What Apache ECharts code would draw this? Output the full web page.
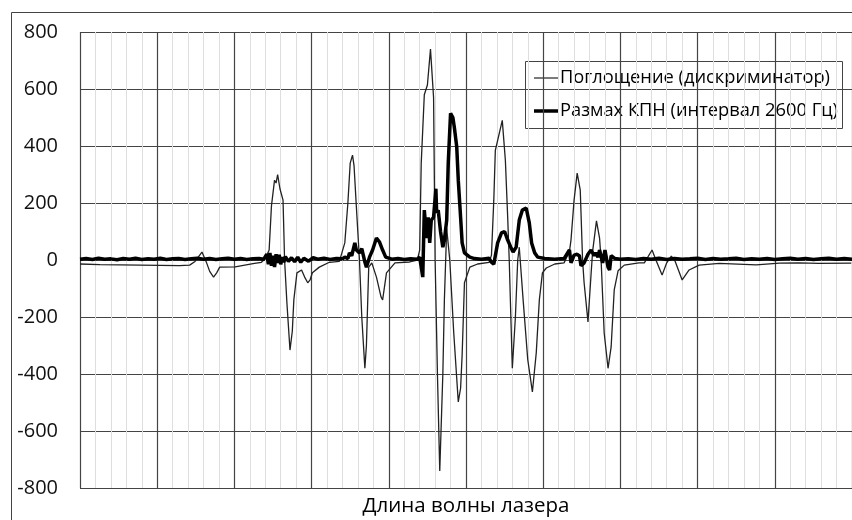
<!DOCTYPE html>
<html><head><meta charset="utf-8">
<script src="https://cdn.jsdelivr.net/npm/echarts@6/dist/echarts.min.js"></script>
<style>html,body{margin:0;padding:0;background:#fff}#c{width:852px;height:520px}</style>
</head><body><div id="c"></div>
<script>
const seriesNames = ['Поглощение (дискриминатор)', 'Размах КПН (интервал 2600 Гц)'];
const xAxisTitle = 'Длина волны лазера';
const yTicks = [-800, -600, -400, -200, 0, 200, 400, 600, 800];

const absorption = [[0,-14],[26,-16],[52,-17],[78,-18],[103,-19],[129,-20],[142,-18],[149,-5],[158,28],[164,-10],[168,-40],[173,-60],[177,-45],[181,-25],[201,-24],[226,-12],[235,-8],[240,5],[245,35],[248,190],[252,280],[254,270],[256,300],[259,250],[263,210],[265,0],[268,-150],[272,-316],[275,-250],[277,-140],[281,-45],[287,-35],[291,-60],[295,-80],[298,-70],[301,-45],[310,-25],[323,-8],[336,-5],[343,60],[347,200],[350,340],[353,368],[355,330],[358,186],[362,0],[365,-200],[369,-380],[371,-300],[374,-25],[378,-10],[384,-60],[390,-130],[392,-140],[397,-45],[408,-10],[427,-7],[437,0],[440,35],[442,340],[446,580],[450,614],[454,740],[458,570],[460,0],[463,-400],[466,-740],[470,-400],[472,-140],[475,110],[479,0],[484,-250],[490,-498],[493,-450],[495,-333],[498,-80],[505,-25],[515,-14],[530,-8],[533,17],[536,210],[538,385],[547,490],[551,350],[554,150],[556,0],[560,-380],[564,-200],[567,0],[569,45],[574,-140],[580,-350],[586,-463],[591,-326],[595,-140],[599,-45],[604,-28],[615,-14],[627,-10],[634,30],[636,70],[640,210],[644,305],[648,245],[651,0],[653,-80],[658,-217],[662,-50],[664,30],[669,137],[673,77],[675,0],[679,-256],[684,-380],[688,-305],[692,-105],[697,-38],[705,-18],[724,-10],[731,-10],[741,35],[746,0],[754,-53],[760,-10],[766,14],[771,-5],[780,-70],[789,-35],[802,-18],[828,-12],[876,-17],[906,-11],[931,-10],[957,-12],[999,-11]];

const swing = [[0,3],[8,5],[16,2],[24,6],[32,3],[40,4],[48,1],[56,5],[64,3],[72,6],[80,2],[88,4],[96,3],[104,6],[112,2],[120,4],[128,5],[136,2],[144,4],[152,6],[160,3],[168,5],[176,2],[184,4],[192,6],[200,3],[208,5],[216,2],[224,4],[232,5],[238,3],[242,20],[244,-15],[246,25],[248,-20],[250,15],[252,-25],[254,20],[256,-10],[258,18],[260,-15],[262,10],[264,-8],[266,12],[270,-5],[274,8],[278,-6],[282,10],[286,-8],[290,6],[296,-4],[302,8],[308,3],[316,6],[324,2],[332,5],[340,4],[343,10],[347,5],[349,25],[352,15],[356,60],[358,35],[362,25],[365,40],[369,-7],[371,-25],[375,10],[379,35],[384,77],[388,63],[392,35],[396,10],[404,3],[412,5],[420,2],[428,4],[437,3],[440,10],[441,5],[444,-60],[446,175],[449,77],[451,150],[453,60],[455,140],[458,150],[461,250],[462,165],[464,175],[467,100],[470,45],[472,70],[475,140],[477,340],[480,515],[483,500],[485,463],[488,397],[490,280],[493,150],[495,60],[498,25],[505,10],[511,5],[520,3],[530,6],[533,-8],[536,-15],[541,60],[546,95],[550,100],[554,70],[558,45],[561,28],[565,45],[569,140],[573,175],[578,182],[582,130],[585,60],[589,25],[593,10],[602,5],[615,3],[627,5],[634,35],[636,-10],[640,17],[644,20],[647,14],[649,-20],[653,-10],[658,20],[662,35],[666,15],[668,25],[671,10],[673,35],[677,-10],[680,35],[684,-25],[686,-35],[688,15],[693,5],[700,3],[710,4],[720,2],[730,5],[740,3],[750,6],[760,2],[770,5],[780,3],[790,4],[800,6],[810,2],[820,5],[830,3],[840,4],[850,6],[860,2],[870,4],[880,3],[890,5],[900,2],[910,4],[920,6],[930,3],[940,5],[950,2],[960,4],[970,6],[980,3],[990,5],[1000,3]];

const FONT = '"Open Sans", "Noto Sans", sans-serif';
const chart = echarts.init(document.getElementById('c'), null, {renderer: 'canvas'});
chart.setOption({
  animation: false,
  backgroundColor: '#fff',
  graphic: [
    {type: 'rect', z: -10, shape: {x: 11.5, y: 12.5, width: 900, height: 600}, style: {fill: 'none', stroke: '#444', lineWidth: 1}},
    {type: 'text', z: 10, x: 466, y: 506, style: {text: xAxisTitle, font: '20.5px ' + FONT, fill: '#000', align: 'center', verticalAlign: 'middle'}},
    {type: 'group', z: 20, children: [
      {type: 'rect', shape: {x: 525.5, y: 61.5, width: 317, height: 67}, style: {fill: '#fff', stroke: '#444', lineWidth: 1}},
      {type: 'line', shape: {x1: 534, y1: 78, x2: 558, y2: 78}, style: {stroke: '#333', lineWidth: 1.3}},
      {type: 'line', shape: {x1: 534, y1: 111, x2: 558, y2: 111}, style: {stroke: '#000', lineWidth: 3.5}},
      {type: 'text', x: 560, y: 78, style: {text: seriesNames[0], font: '18.3px ' + FONT, fill: '#000', verticalAlign: 'middle'}},
      {type: 'text', x: 560, y: 111, style: {text: seriesNames[1], font: '18.3px ' + FONT, fill: '#000', verticalAlign: 'middle'}}
    ]}
  ],
  grid: {left: 80, top: 32, right: 0, bottom: 32},
  xAxis: {
    type: 'value', min: 0, max: 1000, interval: 100,
    axisLine: {show: false}, axisTick: {show: false}, axisLabel: {show: false},
    splitLine: {show: true, lineStyle: {color: '#444', width: 1.2}},
    minorTick: {show: false, splitNumber: 5},
    minorSplitLine: {show: true, lineStyle: {color: '#dedede', width: 1}}
  },
  yAxis: {
    type: 'value', min: -800, max: 800, interval: 200,
    axisLine: {show: false}, axisTick: {show: false},
    axisLabel: {fontFamily: FONT, fontSize: 20, color: '#111', margin: 22},
    splitLine: {show: true, lineStyle: {color: '#444', width: 1.2}}
  },
  series: [
    {name: seriesNames[0], type: 'line', data: absorption, showSymbol: false, symbol: 'none',
     lineStyle: {color: '#222', width: 1.3}, itemStyle: {color: '#222'}, z: 3},
    {name: seriesNames[1], type: 'line', data: swing, showSymbol: false, symbol: 'none',
     lineStyle: {color: '#000', width: 3.5}, itemStyle: {color: '#000'}, z: 4}
  ]
});
</script></body></html>
